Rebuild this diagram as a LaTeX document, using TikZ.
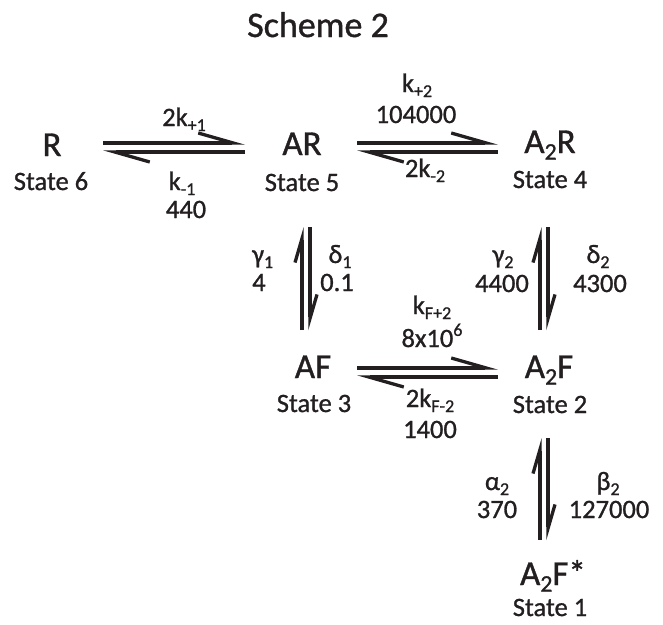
\documentclass[tikz,border=0pt]{standalone}
\usepackage{fontspec}
\setmainfont{Carlito}[FakeBold=1.0]
\usetikzlibrary{arrows.meta,calc}
\definecolor{ink}{HTML}{231F20}
\newcommand{\lo}[1]{\raisebox{-0.19em}{\scalebox{0.68}{#1}}}
\newcommand{\hi}[1]{\raisebox{0.42em}{\scalebox{0.68}{#1}}}
\tikzset{
  titlenode/.style={anchor=base,inner sep=0pt,text=ink,font=\fontsize{36}{40}\selectfont},
  species/.style={anchor=base,inner sep=0pt,text=ink,font=\fontsize{35}{40}\selectfont},
  statelbl/.style={anchor=base,inner sep=0pt,text=ink,font=\fontsize{26.5}{30}\selectfont},
  ratelbl/.style={anchor=base,inner sep=0pt,text=ink,font=\fontsize{26.5}{30}\selectfont},
  hharp/.style={draw=ink,line width=3.3pt,-{Straight Barb[harpoon,length=35pt,width=20pt]}},
  vharp/.style={draw=ink,line width=3.3pt,-{Straight Barb[harpoon,length=24pt,width=14pt]}}
}
\begin{document}
\begin{tikzpicture}[x=1pt,y=-1pt]
\useasboundingbox (0,0) rectangle (663,624);
\node[titlenode] (title) at (318,37) {Scheme 2};
% species
\node[species] (R) at (52,156) {R};
\node[statelbl] (s6) at (51,190) {State 6};
\node[species] (AR) at (302,155) {AR};
\node[statelbl] (s5) at (302,191) {State 5};
\node[species] (A2R) at (550,153) {A\lo{2}R};
\node[statelbl] (s4) at (550,188) {State 4};
\node[species] (AF) at (313,378) {AF};
\node[statelbl] (s3) at (314,412) {State 3};
\node[species] (A2F) at (549,378) {A\lo{2}F};
\node[statelbl] (s2) at (550,413) {State 2};
\node[species] (A2Fs) at (553,585) {A\lo{2}F*};
\node[statelbl] (s1) at (550,616) {State 1};
% R <-> AR
\draw[hharp] ($(R.base)+(51,-13)$) -- ($(AR.base)+(-57,-12)$);
\draw[hharp] ($(AR.base)+(-57,-3)$) -- ($(R.base)+(51,-4)$);
% AR <-> A2R
\draw[hharp] ($(AR.base)+(55,-12)$) -- ($(A2R.base)+(-52,-10)$);
\draw[hharp] ($(A2R.base)+(-52,-1)$) -- ($(AR.base)+(55,-3)$);
% AF <-> A2F
\draw[hharp] ($(AF.base)+(44,-10)$) -- ($(A2F.base)+(-51,-10)$);
\draw[hharp] ($(A2F.base)+(-51,-1)$) -- ($(AF.base)+(44,-1)$);
% AR <-> AF
\draw[vharp] ($(AF.base)+(-11,-48)$) -- ($(AR.base)+(0,72)$);
\draw[vharp] ($(AR.base)+(8,72)$) -- ($(AF.base)+(-3,-48)$);
% A2R <-> A2F
\draw[vharp] ($(A2F.base)+(-9,-48)$) -- ($(A2R.base)+(-10,74)$);
\draw[vharp] ($(A2R.base)+(-2,74)$) -- ($(A2F.base)+(-1,-48)$);
% A2F <-> A2F*
\draw[vharp] ($(A2Fs.base)+(-13,-45)$) -- ($(A2F.base)+(-9,60)$);
\draw[vharp] ($(A2F.base)+(-1,60)$) -- ($(A2Fs.base)+(-5,-45)$);
% rate labels
\node[ratelbl] (k1f) at (184,126) {2k\lo{+1}};
\node[ratelbl] (k1b) at (182,190) {k\lo{-1}};
\node[ratelbl] (k1bv) at (186,218) {440};
\node[ratelbl] (k2f) at (417,92) {k\lo{+2}};
\node[ratelbl] (k2fv) at (416,123) {104000};
\node[ratelbl] (k2b) at (425,177) {2k\lo{-2}};
\node[ratelbl,anchor=base west] (g1) at (252,263) {γ\lo{1}};
\node[ratelbl,anchor=base west] (g1v) at (252,291) {4};
\node[ratelbl] (d1) at (340,263) {δ\lo{1}};
\node[ratelbl] (d1v) at (337,291) {0.1};
\node[ratelbl] (g2) at (503,263) {γ\lo{2}};
\node[ratelbl] (g2v) at (502,292) {4400};
\node[ratelbl] (d2) at (598,263) {δ\lo{2}};
\node[ratelbl] (d2v) at (600,292) {4300};
\node[ratelbl] (kf2f) at (432,314) {k\lo{F+2}};
\node[ratelbl] (kf2fv) at (432,347) {8x10\hi{6}};
\node[ratelbl] (kf2b) at (430,407) {2k\lo{F-2}};
\node[ratelbl] (kf2bv) at (430,438) {1400};
\node[ratelbl] (a2) at (497,490) {α\lo{2}};
\node[ratelbl] (a2v) at (497,518) {370};
\node[ratelbl] (b2) at (608,490) {β\lo{2}};
\node[ratelbl] (b2v) at (609,518) {127000};
\end{tikzpicture}
\end{document}
